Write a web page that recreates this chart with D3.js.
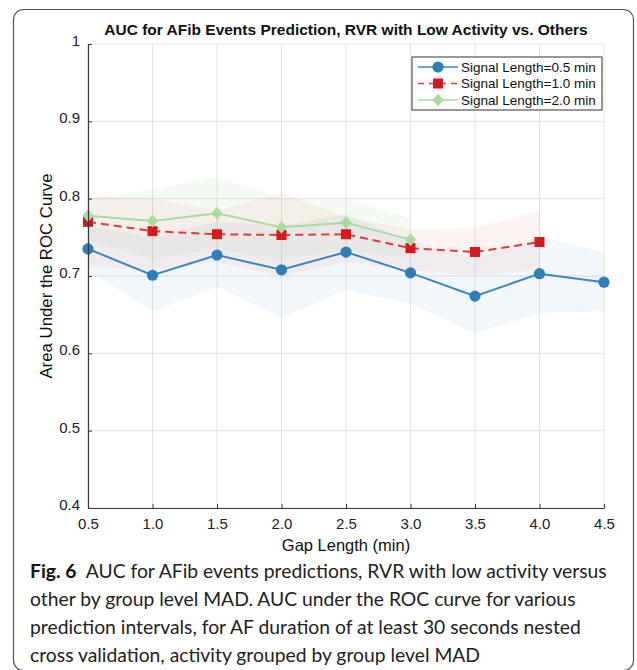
<!DOCTYPE html>
<html>
<head>
<meta charset="utf-8">
<script src="https://cdn.jsdelivr.net/npm/d3@7"></script>
<style>
  html, body { margin: 0; padding: 0; background: #fff; }
  svg { display: block; }
</style>
</head>
<body>
<div id="chart"></div>
<script>
// gap lengths (min) on the x axis
var gaps = [0.5, 1.0, 1.5, 2.0, 2.5, 3.0, 3.5, 4.0, 4.5];
var xTicks = ['0.5', '1.0', '1.5', '2.0', '2.5', '3.0', '3.5', '4.0', '4.5'];
var yTicks = [0.4, 0.5, 0.6, 0.7, 0.8, 0.9, 1];

// signal length 0.5 min
var auc05 = [0.735, 0.701, 0.727, 0.708, 0.731, 0.704, 0.674, 0.703, 0.692];
var lo05  = [0.708, 0.654, 0.686, 0.646, 0.682, 0.664, 0.626, 0.652, 0.655];
var hi05  = [0.765, 0.750, 0.770, 0.765, 0.780, 0.745, 0.722, 0.751, 0.731];
// signal length 1.0 min
var auc10 = [0.770, 0.758, 0.754, 0.753, 0.754, 0.736, 0.731, 0.744];
var lo10  = [0.712, 0.708, 0.718, 0.700, 0.718, 0.708, 0.701, 0.708];
var hi10  = [0.803, 0.800, 0.785, 0.807, 0.777, 0.760, 0.762, 0.785];
// signal length 2.0 min
var auc20 = [0.778, 0.771, 0.781, 0.763, 0.769, 0.747];
var lo20  = [0.745, 0.722, 0.735, 0.720, 0.735, 0.722];
var hi20  = [0.800, 0.812, 0.828, 0.800, 0.800, 0.775];

var legendNames = ['Signal Length=0.5 min', 'Signal Length=1.0 min', 'Signal Length=2.0 min'];

var captionLines = [
  ['Fig. 6', '  AUC for AFib events predictions, RVR with low activity versus'],
  ['', 'other by group level MAD. AUC under the ROC curve for various'],
  ['', 'prediction intervals, for AF duration of at least 30 seconds nested'],
  ['', 'cross validation, activity grouped by group level MAD']
];

var W = 637, H = 670;
var plot = {left: 88, right: 604, top: 44, bottom: 508};
var chartFont = '"Liberation Sans", Arial, sans-serif';

var svg = d3.select('#chart').append('svg')
    .attr('width', W)
    .attr('height', H);

// card frame
svg.append('rect')
    .attr('x', 13.5).attr('y', 9.5)
    .attr('width', 620).attr('height', 661)
    .attr('rx', 10).attr('ry', 10)
    .style('fill', 'none')
    .style('stroke', '#555')
    .style('stroke-width', 1.2);

var x = d3.scaleLinear().domain([0.5, 4.5]).range([plot.left, plot.right]);
var y = d3.scaleLinear().domain([0.4, 1]).range([plot.bottom, plot.top]);

// grid
var grid = svg.append('g').attr('class', 'grid');
grid.selectAll('line.gx').data(gaps).enter().append('line')
    .attr('class', 'gx')
    .attr('x1', function (d) { return x(d); })
    .attr('x2', function (d) { return x(d); })
    .attr('y1', plot.top).attr('y2', plot.bottom)
    .style('stroke', '#e3e3e3').style('stroke-width', 1);
grid.selectAll('line.gy').data(yTicks).enter().append('line')
    .attr('class', 'gy')
    .attr('x1', plot.left).attr('x2', plot.right)
    .attr('y1', function (d) { return y(d); })
    .attr('y2', function (d) { return y(d); })
    .style('stroke', '#e3e3e3').style('stroke-width', 1);

// bands
function band(lo, hi, color, opacity) {
    var pts = lo.map(function (d, i) { return {g: gaps[i], lo: d, hi: hi[i]}; });
    var area = d3.area()
        .x(function (d) { return x(d.g); })
        .y0(function (d) { return y(d.lo); })
        .y1(function (d) { return y(d.hi); });
    svg.append('path').datum(pts)
        .attr('d', area)
        .style('fill', color)
        .style('fill-opacity', opacity);
}
band(lo05, hi05, '#3d8cc8', 0.07);
band(lo10, hi10, '#e8353a', 0.06);
band(lo20, hi20, '#8fd18a', 0.09);

// lines
var line = d3.line()
    .x(function (d, i) { return x(gaps[i]); })
    .y(function (d) { return y(d); });

var series = [
    {vals: auc05, color: '#2c7fb8', dash: null, marker: 'circle', lineColor: '#3a86c0'},
    {vals: auc10, color: '#d7191c', dash: '8,5', marker: 'square', lineColor: '#e23a3d'},
    {vals: auc20, color: '#a8dca0', dash: null, marker: 'diamond', lineColor: '#a8dca0'}
];

function marker(g, type, cx, cy, color) {
    if (type === 'circle') {
        g.append('circle').attr('cx', cx).attr('cy', cy).attr('r', 5.6)
            .style('fill', color);
    } else if (type === 'square') {
        g.append('rect').attr('x', cx - 5).attr('y', cy - 5)
            .attr('width', 10).attr('height', 10)
            .style('fill', color);
    } else {
        var s = 6.5;
        g.append('path')
            .attr('d', 'M' + cx + ',' + (cy - s) + 'L' + (cx + s * 0.85) + ',' + cy +
                'L' + cx + ',' + (cy + s) + 'L' + (cx - s * 0.85) + ',' + cy + 'Z')
            .style('fill', color);
    }
}

series.forEach(function (s) {
    var g = svg.append('g');
    g.append('path').datum(s.vals)
        .attr('d', line)
        .style('fill', 'none')
        .style('stroke', s.lineColor)
        .style('stroke-width', 2)
        .style('stroke-dasharray', s.dash);
    s.vals.forEach(function (v, i) {
        marker(g, s.marker, x(gaps[i]), y(v), s.color);
    });
});

// axes
var xAxis = d3.axisBottom(x).tickValues(gaps)
    .tickFormat(function (d, i) { return xTicks[i]; })
    .tickSizeInner(-4).tickSizeOuter(0).tickPadding(10);
var yAxis = d3.axisLeft(y).tickValues(yTicks)
    .tickFormat(function (d) { return d === 1 ? '1' : d.toFixed(1); })
    .tickSizeInner(-4).tickSizeOuter(0).tickPadding(8);

var gx = svg.append('g').attr('transform', 'translate(0,' + plot.bottom + ')').call(xAxis);
var gy = svg.append('g').attr('transform', 'translate(' + plot.left + ',0)').call(yAxis);
[gx, gy].forEach(function (g) {
    g.attr('font-size', null).attr('font-family', null);
    g.select('.domain').style('stroke', '#3a3a3a').style('stroke-width', 1.2);
    g.selectAll('.tick line').style('stroke', '#3a3a3a');
    g.selectAll('.tick text')
        .attr('font-family', chartFont)
        .attr('font-size', 15)
        .style('fill', '#222');
});
gy.selectAll('.tick text').attr('dy', '0.1em');

// title and axis labels
svg.append('text')
    .attr('x', (plot.left + plot.right) / 2).attr('y', 35)
    .attr('text-anchor', 'middle')
    .style('font-family', chartFont)
    .style('font-weight', 'bold')
    .style('font-size', '15.5px')
    .style('fill', '#111')
    .text('AUC for AFib Events Prediction, RVR with Low Activity vs. Others');

svg.append('text')
    .attr('x', (plot.left + plot.right) / 2).attr('y', 551)
    .attr('text-anchor', 'middle')
    .style('font-family', chartFont)
    .style('font-size', '16.5px')
    .style('fill', '#111')
    .text('Gap Length (min)');

svg.append('text')
    .attr('transform', 'translate(52,' + ((plot.top + plot.bottom) / 2) + ') rotate(-90)')
    .attr('text-anchor', 'middle')
    .style('font-family', chartFont)
    .style('font-size', '16.8px')
    .style('fill', '#111')
    .text('Area Under the ROC Curve');

// legend
var lg = svg.append('g').attr('transform', 'translate(412,57)');
lg.append('rect')
    .attr('width', 190).attr('height', 53)
    .style('fill', '#fff')
    .style('stroke', '#333')
    .style('stroke-width', 1);
series.forEach(function (s, i) {
    var ly = 10 + i * 16.5;
    lg.append('line')
        .attr('x1', 6).attr('x2', 46)
        .attr('y1', ly).attr('y2', ly)
        .style('stroke', s.lineColor)
        .style('stroke-width', 1.5)
        .style('stroke-dasharray', s.dash ? '6,5' : null);
    marker(lg, s.marker, 26, ly, s.color);
    lg.append('text')
        .attr('x', 49).attr('y', ly + 4.5)
        .style('font-family', chartFont)
        .style('font-size', '13.5px')
        .style('fill', '#111')
        .text(legendNames[i]);
});

// caption: size the font so the first line spans the same width as in the figure
var capFont = 'Lato, "Open Sans", sans-serif';
var capTexts = captionLines.map(function (l, i) {
    var t = svg.append('text')
        .attr('x', 30).attr('y', 578 + i * 28)
        .style('font-family', capFont)
        .style('font-size', '19px')
        .style('fill', '#222')
        .style('white-space', 'pre');
    if (l[0]) {
        t.append('tspan').style('font-weight', 'bold').style('fill', '#111').text(l[0]);
    }
    t.append('tspan').text(l[1]);
    return t;
});
var firstLen = capTexts[0].node().getComputedTextLength();
var capSize = 19 * 577 / firstLen;
capTexts.forEach(function (t) { t.style('font-size', capSize + 'px'); });
</script>
</body>
</html>
